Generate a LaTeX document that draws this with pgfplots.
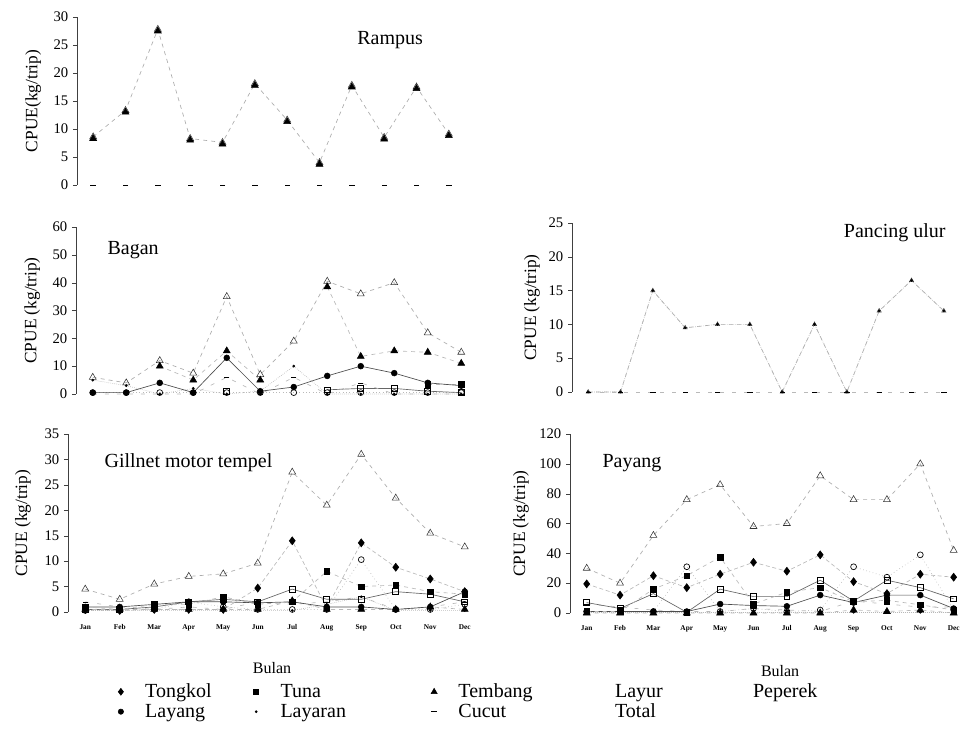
\documentclass[border=0pt]{standalone}
\usepackage{pgfplots}
\pgfplotsset{compat=1.18}
\usepackage{pgfplotstable}
\usepackage{fontspec}
\setmainfont{Liberation Serif}

% columns: To=Tongkol La=Layang Tu=Tuna Ly=Layaran Te=Tembang Cu=Cucut Lr=Layur Pe=Peperek Tot=Total
\pgfplotstableread{
m Te Cu Tot
1 8.3 0 8.6
2 13 0 13.3
3 27.5 0 27.8
4 8 0 8.3
5 7.3 0 7.6
6 17.8 0 18.1
7 11.3 0 11.6
8 3.7 0 4.0
9 17.5 0 17.8
10 8.2 0 8.5
11 17.2 0 17.5
12 8.8 0 9.1
}\rampus

\pgfplotstableread{
m La Tu Ly Te Cu Lr Pe Tot
1 0.5 nan 5 nan 0 nan 0.5 6
2 0.5 nan 3 nan 0 nan 0.5 4
3 4 nan 0 10 0 nan 0.5 12
4 0.5 nan 2 5 0 nan 0.5 7.5
5 13 nan 0 15.5 6 1 0.5 35
6 1 nan 1 5 0 nan 0.5 7
7 2.5 nan 10 nan 6 nan 0.5 19
8 6.5 nan 0 38.5 0 1.5 0.5 40.5
9 10 nan 0 13.5 4 2 0.5 36
10 7.5 nan 0 15.5 0 2 0.5 40
11 4 3.5 0 15 0 1 0.5 22
12 3 3.5 0 11 0 0.5 0.5 15
}\bagan

\pgfplotstableread{
m Ly Cu Tot
1 0 0 0
2 0 0 0
3 15 0 15
4 9.5 0 9.5
5 10 0 10
6 10 0 10
7 0 0 0
8 10 0 10
9 0 0 0
10 12 0 12
11 16.5 0 16.5
12 12 0 12
}\pancing

\pgfplotstableread{
m To La Tu Ly Te Cu Lr Pe Tot
1 0.5 1 1 0.3 0.5 2 0.5 0.3 4.5
2 0.3 1 0.5 0.3 0.5 1 0.5 0.3 2.5
3 0.5 1.5 1.5 0.3 0.5 0.5 1 0.5 5.5
4 0.5 2 1.5 0.3 0.5 1 2 2 7
5 0.5 2 3 0.3 0.5 0.5 2.5 1 7.5
6 4.7 1.8 1.5 0.3 0.5 2 2 0.5 9.6
7 14 2 2 0.3 2.2 1.5 4.5 0.5 27.5
8 0.8 1 8 1.5 0.5 2 2.5 0.5 21
9 13.6 1 5 3 0.5 3 2.5 10.3 31
10 8.8 0.5 5.3 0.3 0.5 0.5 4 0.5 22.4
11 6.5 1 4 0.3 1 1 3.5 0.5 15.5
12 4 4 3.5 0.3 0.5 2 2 1.5 12.8
}\gillnet

\pgfplotstableread{
m To La Tu Ly Te Cu Lr Pe Tot
1 19.5 1 1 0.5 0 6 7 1 30
2 12 1 1 0.5 0 4 3 1 20
3 25 1 16 0.5 0 2 13 1 52
4 17 1 25 0.5 0 1 0.5 31 76
5 26 6 37.5 0.5 0 1 16 1 86
6 34 5 6 0.5 0 3 11 3 58
7 28 4.5 14 0.5 0 2 11 1 60
8 39 12 17 0.5 0 1 22 2 92
9 21 7 7.5 0.5 2 8 8 31 76
10 13 12 8.5 0.5 1 6 22 24 76
11 26 12 5.5 0.5 2 4 17 39 100
12 24 3 2 0.5 0 4 9.5 2 42
}\payang

\pgfplotsset{
  ser/.style={draw=gray!55, line width=0.5pt, mark options={solid, draw=black, fill=black, line width=0.4pt}},
  sTo/.style={ser, densely dashed, mark=diamond*, mark size=3pt},
  sLa/.style={ser, draw=black!70, mark=*, mark size=2.2pt},
  sTu/.style={ser, dashed, mark=square*, mark size=2.1pt},
  sLy/.style={ser, densely dotted, mark=*, mark size=0.8pt},
  sTe/.style={ser, dashed, mark=triangle*, mark size=3pt},
  sCu/.style={ser, loosely dashed, mark=-, mark size=2pt},
  sLr/.style={ser, draw=black!60, mark=square, mark size=2.2pt, mark options={solid, draw=black, fill=white, line width=0.5pt}},
  sPe/.style={ser, dotted, mark=o, mark size=2.2pt, mark options={solid, draw=black, fill=white, line width=0.5pt}},
  sTot/.style={ser, dashed, draw=gray!65, mark=triangle, mark size=3pt, mark options={solid, draw=black!80, fill=white, line width=0.4pt}},
  legmark/.style={legend image code/.code={\path (0cm,0cm) (0.6cm,0cm); \draw[##1] plot coordinates {(0.3cm,4pt)};}},
  legempty/.style={legend image code/.code={\path (0cm,0cm) (0.6cm,0cm);}},
  panel/.style={
    scale only axis, anchor=south west, clip=false,
    xmin=0.5, xmax=12.5, ymin=0,
    axis y line*=left, axis line style={-},
    y axis line style={black!75, line width=0.5pt},
    tick align=outside, major tick length=3pt,
    ytick style={black!75},
    /pgf/number format/assume math mode=true,
    yticklabel style={font=\fontsize{11}{13}\selectfont},
    ylabel style={font=\fontsize{13}{15}\selectfont, anchor=center},
    unbounded coords=jump,
  },
  toppanel/.style={panel, axis x line=none},
  botpanel/.style={panel, axis x line*=bottom, x axis line style={draw=none},
    xtick={1,...,12}, xticklabels={Jan,Feb,Mar,Apr,May,Jun,Jul,Aug,Sep,Oct,Nov,Dec},
    x tick style={draw=none},
    xticklabel style={font=\fontsize{5.5}{6}\selectfont\bfseries, yshift=-3pt},
    xlabel style={font=\fontsize{12}{14}\selectfont, anchor=center},
  },
}
\newcommand{\ttl}{\fontsize{15}{18}\selectfont}

\begin{document}
\begin{tikzpicture}
\useasboundingbox (0,0) rectangle (723pt,546.75pt);

% ---------------- Rampus
\begin{axis}[toppanel, at={(57.75pt,408pt)}, width=291pt, height=126pt,
  ymax=30, ytick={0,5,...,30},
  ylabel={CPUE(kg/trip)}, ylabel style={at={(axis description cs:-0.113,0.5)}}]
\addplot[sTot] table[x=m,y=Tot] {\rampus};
\addplot[sCu, draw=none] table[x=m,y=Cu] {\rampus};
\addplot[sTe, draw=none] table[x=m,y=Te] {\rampus};
\node[font=\ttl] at (rel axis cs:0.807,0.863) {Rampus};
\end{axis}

% ---------------- Bagan
\begin{axis}[toppanel, at={(57pt,251.25pt)}, width=301.5pt, height=125.25pt,
  ymax=60, ytick={0,10,...,60},
  ylabel={CPUE (kg/trip)}, ylabel style={at={(axis description cs:-0.109,0.5)}}]
\addplot[sTot] table[x=m,y=Tot] {\bagan};
\addplot[sPe] table[x=m,y=Pe] {\bagan};
\addplot[sLr] table[x=m,y=Lr] {\bagan};
\addplot[sCu] table[x=m,y=Cu] {\bagan};
\addplot[sLy] table[x=m,y=Ly] {\bagan};
\addplot[sTe] table[x=m,y=Te] {\bagan};
\addplot[sTu] table[x=m,y=Tu] {\bagan};
\addplot[sLa] table[x=m,y=La] {\bagan};
\node[font=\ttl] at (rel axis cs:0.142,0.862) {Bagan};
\end{axis}

% ---------------- Pancing ulur
\begin{axis}[toppanel, at={(429pt,252.75pt)}, width=291pt, height=126.75pt,
  ymax=25, ytick={0,5,...,25},
  ylabel={CPUE (kg/trip)}, ylabel style={at={(axis description cs:-0.103,0.5)}}]
\addplot[sTot, mark size=1.8pt] table[x=m,y=Tot] {\pancing};
\addplot[sCu] table[x=m,y=Cu] {\pancing};
\addplot[sLy] table[x=m,y=Ly] {\pancing};
\node[font=\ttl] at (rel axis cs:0.832,0.94) {Pancing ulur};
\end{axis}

% ---------------- Gillnet motor tempel
\begin{axis}[botpanel, at={(51pt,87.75pt)}, width=310.5pt, height=133.5pt,
  ymax=35, ytick={0,5,...,35},
  ylabel={CPUE (kg/trip)}, ylabel style={at={(axis description cs:-0.109,0.5)}},
  xlabel={Bulan}, xlabel style={at={(axis description cs:0.493,-0.315)}},
  legend columns=5, legend cell align=left,
  legend style={at={(0.099,-0.395)}, anchor=north west, draw=none, fill=none, inner sep=0pt,
    font=\fontsize{15}{17}\selectfont, cells={anchor=base west}, row sep=2pt,
    nodes={text width=74pt, inner sep=0.5pt, align=left},
    /tikz/every odd column/.style={column sep=9pt},
    /tikz/column 2/.style={column sep=0pt},
    /tikz/column 4/.style={column sep=32pt},
    /tikz/column 6/.style={column sep=16pt},
    /tikz/column 8/.style={column sep=2pt}},
]
\addlegendimage{legmark, mark=diamond*, mark size=2.6pt, black}
\addlegendimage{legmark, mark=square*, mark size=1.9pt, black}
\addlegendimage{legmark, mark=triangle*, mark size=2.6pt, black}
\addlegendimage{legempty}
\addlegendimage{legempty}
\addlegendimage{legmark, mark=*, mark size=2pt, black}
\addlegendimage{legmark, mark=*, mark size=0.8pt, black}
\addlegendimage{legmark, mark=-, mark size=2pt, black}
\addlegendimage{legempty}
\legend{Tongkol, Tuna, Tembang, Layur, Peperek, Layang, Layaran, Cucut, Total}
\addplot[sTot] table[x=m,y=Tot] {\gillnet};
\addplot[sCu] table[x=m,y=Cu] {\gillnet};
\addplot[sLy] table[x=m,y=Ly] {\gillnet};
\addplot[sPe] table[x=m,y=Pe] {\gillnet};
\addplot[sLr] table[x=m,y=Lr] {\gillnet};
\addplot[sTe] table[x=m,y=Te] {\gillnet};
\addplot[sLa] table[x=m,y=La] {\gillnet};
\addplot[sTu] table[x=m,y=Tu] {\gillnet};
\addplot[sTo] table[x=m,y=To] {\gillnet};
\node[font=\ttl, anchor=west] at (rel axis cs:0.077,0.837) {Gillnet motor tempel};
\end{axis}

% ---------------- Payang
\begin{axis}[botpanel, at={(427.5pt,87pt)}, width=294pt, height=134.25pt,
  xmax=12.25, ymax=120, ytick={0,20,...,120},
  ylabel={CPUE (kg/trip)}, ylabel style={at={(axis description cs:-0.125,0.5)}},
  xlabel={Bulan}, xlabel style={at={(axis description cs:0.536,-0.325)}}]
\addplot[sTot] table[x=m,y=Tot] {\payang};
\addplot[sCu] table[x=m,y=Cu] {\payang};
\addplot[sLy] table[x=m,y=Ly] {\payang};
\addplot[sPe] table[x=m,y=Pe] {\payang};
\addplot[sLr] table[x=m,y=Lr] {\payang};
\addplot[sTe] table[x=m,y=Te] {\payang};
\addplot[sLa] table[x=m,y=La] {\payang};
\addplot[sTu] table[x=m,y=Tu] {\payang};
\addplot[sTo] table[x=m,y=To] {\payang};
\node[font=\ttl] at (rel axis cs:0.158,0.838) {Payang};
\end{axis}
\end{tikzpicture}
\end{document}
